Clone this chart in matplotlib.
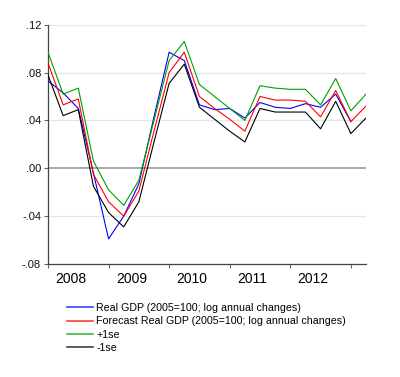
import numpy as np
import matplotlib
matplotlib.use("Agg")
import matplotlib.pyplot as plt

plt.rcParams['font.family'] = ['Liberation Sans', 'DejaVu Sans']

# Quarterly data, 2008Q1 .. 2013Q2
quarters = np.arange(22)
years = ["2008", "2009", "2010", "2011", "2012"]

# Real GDP (ends at 2013Q1)
real_gdp = [0.073, 0.063, 0.050, -0.004, -0.059, -0.040, -0.013, 0.043,
            0.097, 0.090, 0.053, 0.049, 0.050, 0.042, 0.055, 0.051,
            0.050, 0.054, 0.051, 0.062, 0.039]
forecast = [0.088, 0.053, 0.058, -0.005, -0.028, -0.040, -0.019, 0.031,
            0.080, 0.097, 0.060, 0.050, 0.041, 0.031, 0.060, 0.057,
            0.057, 0.056, 0.043, 0.065, 0.039, 0.052]
plus_1se = [0.097, 0.062, 0.067, 0.006, -0.018, -0.031, -0.010, 0.040,
            0.090, 0.106, 0.070, 0.060, 0.050, 0.040, 0.069, 0.067,
            0.066, 0.066, 0.053, 0.075, 0.048, 0.062]
minus_1se = [0.078, 0.044, 0.049, -0.015, -0.037, -0.049, -0.028, 0.022,
             0.071, 0.087, 0.051, 0.041, 0.031, 0.022, 0.050, 0.047,
             0.047, 0.047, 0.033, 0.056, 0.029, 0.042]

yticks = [-0.08, -0.04, 0.00, 0.04, 0.08, 0.12]
ytick_labels = ["-.08", "-.04", ".00", ".04", ".08", ".12"]

fig = plt.figure(figsize=(4.0, 3.77), dpi=100)
ax = fig.add_axes([0.12, 0.2997, 0.795, 0.6348])

# Gridlines
for y in yticks:
    if y == 0:
        ax.axhline(y, color="#9a9a9a", lw=1.2, zorder=1)
    else:
        ax.axhline(y, color="#e6e6e6", lw=0.9, zorder=1)

ax.plot(quarters[:len(real_gdp)], real_gdp, color="#0000ff", lw=0.8,
        label="Real GDP (2005=100; log annual changes)", zorder=3)
ax.plot(quarters, forecast, color="#ff0000", lw=0.8,
        label="Forecast Real GDP (2005=100; log annual changes)", zorder=3)
ax.plot(quarters, plus_1se, color="#00a000", lw=0.8, label="+1se", zorder=3)
ax.plot(quarters, minus_1se, color="#000000", lw=0.8, label="-1se", zorder=3)

ax.set_xlim(0, 21)
ax.set_ylim(-0.08, 0.12)
ax.set_yticks(yticks)
ax.set_yticklabels(ytick_labels)

# year ticks at year boundaries, labels centred within the year
ax.set_xticks(np.arange(0, 24, 4))
ax.set_xticklabels([])
ax.set_xticks(np.arange(len(years)) * 4 + 1.5, minor=True)
ax.set_xticklabels(years, minor=True)
ax.tick_params(axis="x", which="minor", length=0, pad=6)
ax.tick_params(axis="x", which="major", length=3, color="#666666", width=0.8)
ax.tick_params(axis="y", length=3, color="#666666", width=0.8, pad=2)
ax.tick_params(labelsize=8, labelcolor="#111111")

for side in ["top", "right"]:
    ax.spines[side].set_visible(False)
for side in ["left", "bottom"]:
    ax.spines[side].set_color("#444444")
    ax.spines[side].set_linewidth(0.9)

leg = fig.legend(loc="upper left", bbox_to_anchor=(0.158, 0.207), frameon=False,
                 fontsize=7.7, handlelength=2.4, handletextpad=0.3,
                 labelspacing=0.3, borderaxespad=0)
for line in leg.get_lines():
    line.set_linewidth(1.2)
    line.set_alpha(0.75)

fig.savefig("out.png", dpi=100)
